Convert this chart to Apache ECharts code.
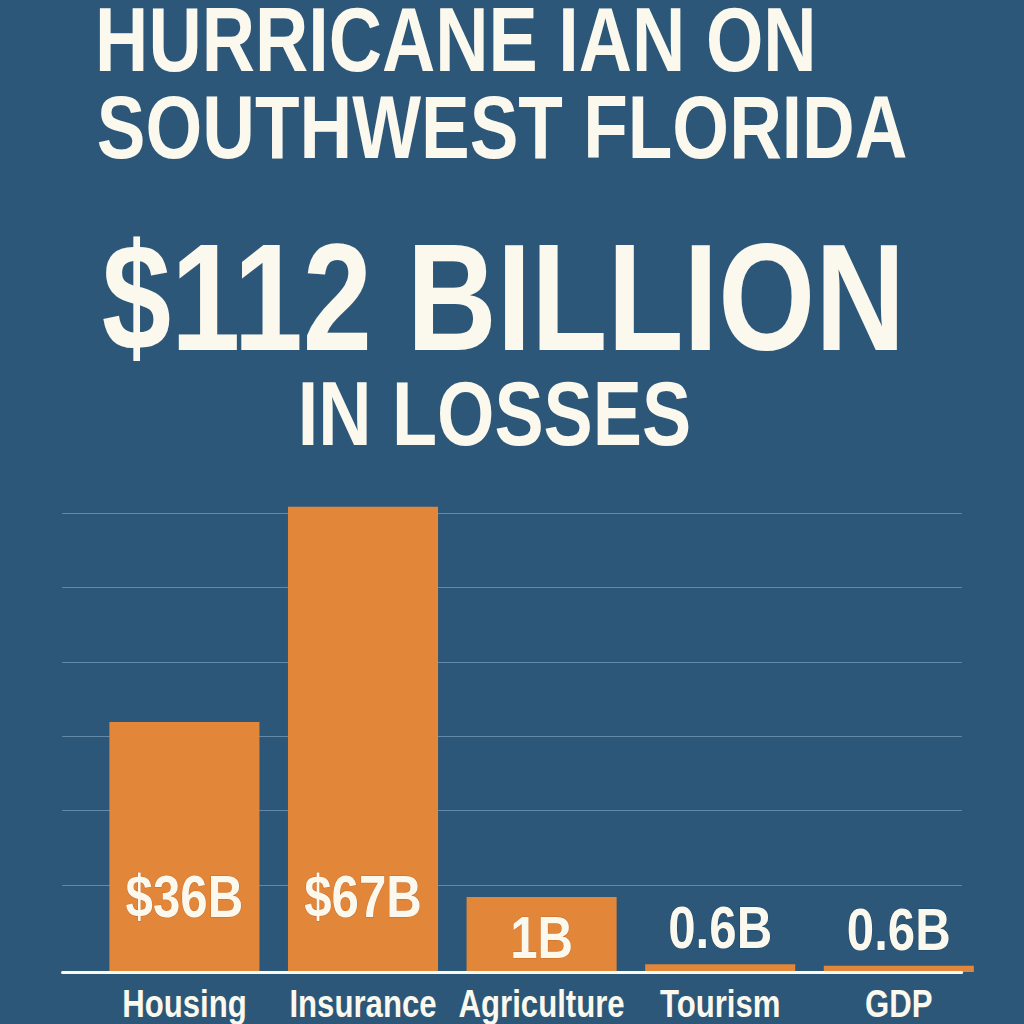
<!DOCTYPE html>
<html>
<head>
<meta charset="utf-8">
<title>Hurricane Ian losses</title>
<script src="https://cdn.jsdelivr.net/npm/echarts@6/dist/echarts.min.js"></script>
<style>
    html, body { margin: 0; padding: 0; background: #2c5779; overflow: hidden; }
    /* the poster uses a narrow font; no narrow face is installed, so the whole
       chart is drawn 1/0.82 wider and squeezed back (Arial Narrow = Arial * 0.82) */
    #lossChart {
        width: 1249px;
        height: 1024px;
        transform: scaleX(0.82);
        transform-origin: 0 0;
    }
</style>
</head>
<body>
<div id="lossChart"></div>
<script>
var categories = ['Housing', 'Insurance', 'Agriculture', 'Tourism', 'GDP'];
// bar heights as drawn (billions, same scale as the two big bars)
var barValues = [36, 67, 10.8, 1.1, 0.9];
// value text printed on / above each bar
var valueLabels = ['$36B', '$67B', '1B', '0.6B', '0.6B'];
var titleLines = ['HURRICANE IAN ON', 'SOUTHWEST FLORIDA', '$112 BILLION', 'IN LOSSES'];

var font = '"Liberation Sans", Arial, sans-serif';
var cream = '#fbf8ee';
var orange = '#e2863a';

var chartDom = document.getElementById('lossChart');
var lossChart = echarts.init(chartDom, null, { renderer: 'svg' });

// labels: big bars get the text inside near the bottom, tiny bars get it on top
var barData = barValues.map(function (v, i) {
    var lab;
    if (v > 20) {
        lab = { position: 'insideBottom', distance: 46, textBorderColor: '#c96a24' };
    } else if (v > 5) {
        lab = { position: 'insideBottom', distance: 5, textBorderColor: '#c96a24' };
    } else {
        lab = { position: 'top', distance: 7, textBorderColor: '#1f4565' };
    }
    lab.formatter = valueLabels[i];
    return { value: v, label: lab };
});

var hiddenAxis = {
    axisLine: { show: false },
    axisTick: { show: false },
    axisLabel: { show: false },
    splitLine: { show: false }
};

// headline text, placed by its middle line
function headline(text, x, y, size, lh) {
    return {
        type: 'text',
        x: x,
        y: y,
        style: {
            text: text,
            fill: cream,
            font: 'bold ' + size + 'px ' + font,
            verticalAlign: 'middle',
            lineHeight: lh
        }
    };
}

var option = {
    backgroundColor: '#2c5779',
    animation: false,
    grid: [
        // bars
        { left: 116, right: 44, top: 486, bottom: 52 },
        // grid lines (on the poster they are not aligned to zero)
        { left: 76, right: 76, top: 513, bottom: 139 },
        // base line
        { left: 76, right: 76, top: 962, bottom: 52 }
    ],
    xAxis: [
        {
            type: 'category',
            gridIndex: 0,
            data: categories,
            axisLine: { show: false },
            axisTick: { show: false },
            axisLabel: {
                interval: 0,
                color: cream,
                fontFamily: font,
                fontWeight: 'bold',
                fontSize: 38,
                margin: 13
            }
        },
        echarts.util.extend({ type: 'value', gridIndex: 1, min: 0, max: 1 }, hiddenAxis),
        {
            type: 'value',
            gridIndex: 2,
            min: 0,
            max: 1,
            z: 5,
            axisLine: { show: true, onZero: false, lineStyle: { color: cream, width: 3 } },
            axisTick: { show: false },
            axisLabel: { show: false },
            splitLine: { show: false }
        }
    ],
    yAxis: [
        echarts.util.extend({ type: 'value', gridIndex: 0, min: 0, max: 70 }, hiddenAxis),
        {
            type: 'value',
            gridIndex: 1,
            min: 0,
            max: 5,
            interval: 1,
            axisLine: { show: false },
            axisTick: { show: false },
            axisLabel: { show: false },
            splitLine: { show: true, lineStyle: { color: '#6a8eac', width: 1 } }
        },
        echarts.util.extend({ type: 'value', gridIndex: 2, min: 0, max: 1 }, hiddenAxis)
    ],
    series: [
        {
            type: 'bar',
            xAxisIndex: 0,
            yAxisIndex: 0,
            barWidth: 183,
            z: 3,
            itemStyle: { color: orange },
            label: {
                show: true,
                color: cream,
                fontFamily: font,
                fontWeight: 'bold',
                fontSize: 60,
                textBorderWidth: 1
            },
            data: barData
        }
    ],
    graphic: [
        headline(titleLines[0], 116, 40, 90, 70),
        headline(titleLines[1], 118, 127, 89, 70),
        headline(titleLines[2], 124, 297, 152, 118),
        headline(titleLines[3], 363, 414, 90, 70)
    ]
};

lossChart.setOption(option);

window.onresize = function () {
    lossChart.resize();
};
</script>
</body>
</html>
